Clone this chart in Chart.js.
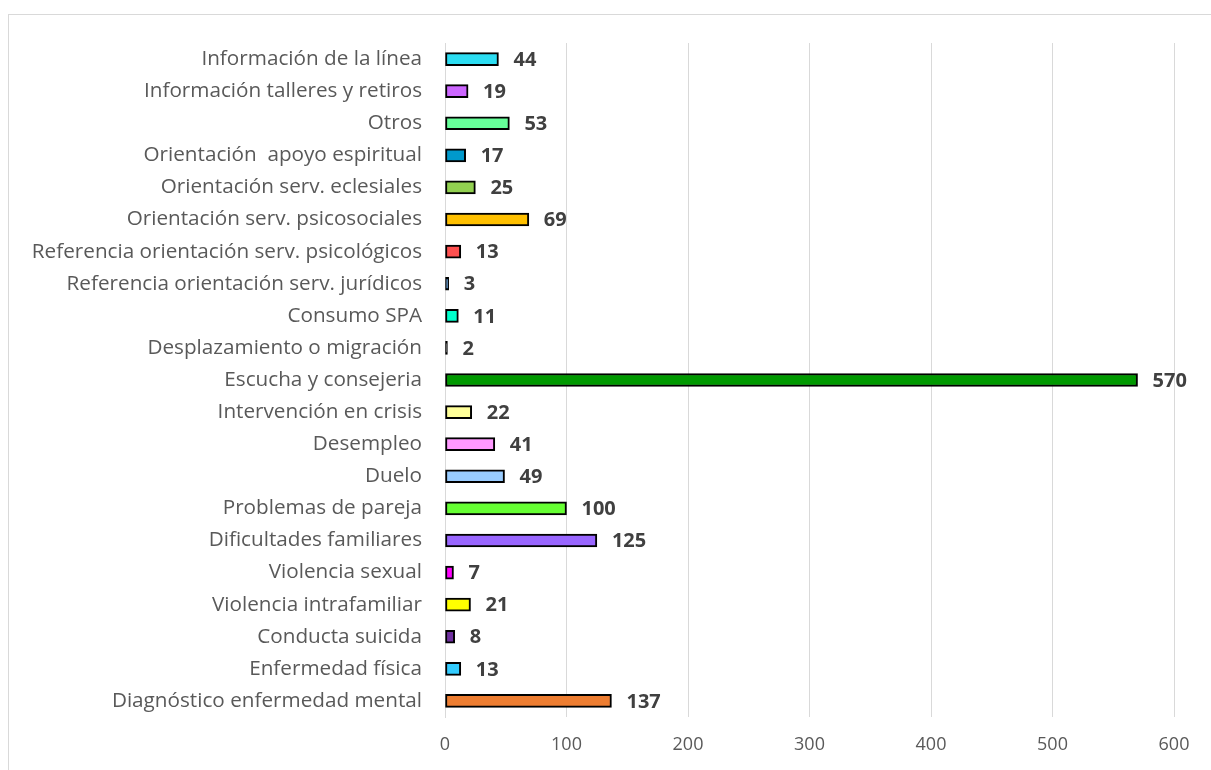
<!DOCTYPE html>
<html>
<head>
<meta charset="utf-8">
<script src="https://cdn.jsdelivr.net/npm/chart.js@4.4.1/dist/chart.umd.min.js"></script>
<style>
  body { margin: 0; background: #fff; overflow: hidden; }
  #wrap { position: relative; width: 1211px; height: 770px; }
  #frame { position: absolute; left: 8px; top: 14px; width: 1220px; height: 780px; border: 1px solid #d9d9d9; box-sizing: border-box; }
  canvas { position: absolute; left: 0; top: 0; }
</style>
</head>
<body>
<div id="wrap">
  <div id="frame"></div>
  <canvas id="chart" width="1211" height="770"></canvas>
</div>
<script>
// categorias, de arriba hacia abajo
const categories = [
    "Información de la línea",
    "Información talleres y retiros",
    "Otros",
    "Orientación  apoyo espiritual",
    "Orientación serv. eclesiales",
    "Orientación serv. psicosociales",
    "Referencia orientación serv. psicológicos",
    "Referencia orientación serv. jurídicos",
    "Consumo SPA",
    "Desplazamiento o migración",
    "Escucha y consejeria",
    "Intervención en crisis",
    "Desempleo",
    "Duelo",
    "Problemas de pareja",
    "Dificultades familiares",
    "Violencia sexual",
    "Violencia intrafamiliar",
    "Conducta suicida",
    "Enfermedad física",
    "Diagnóstico enfermedad mental"
];

const values = [44, 19, 53, 17, 25, 69, 13, 3, 11, 2, 570, 22, 41, 49, 100, 125, 7, 21, 8, 13, 137];

const barColors = [
    "#2CDDF2", "#CC66FF", "#66FF99", "#0099CC", "#92D050", "#FFC000", "#FF5050",
    "#3399FF", "#00FFCC", "#333333", "#009900", "#FFFF99", "#FF99FF", "#99CCFF",
    "#66FF33", "#9966FF", "#FF00FF", "#FFFF00", "#7030A0", "#33CCFF", "#ED7D31"
];

const xTicks = [0, 100, 200, 300, 400, 500, 600];

const FONT = "'Open Sans', sans-serif";

// etiquetas de valor al final de cada barra
const valueLabels = {
    id: 'valueLabels',
    afterDatasetsDraw(chart) {
        const ctx = chart.ctx;
        const meta = chart.getDatasetMeta(0);
        ctx.save();
        ctx.font = "bold 20px " + FONT;
        ctx.fillStyle = "#404040";
        ctx.textAlign = "left";
        ctx.textBaseline = "middle";
        meta.data.forEach((bar, i) => {
            ctx.fillText(String(values[i]), bar.x + 15, bar.y + 1);
        });
        ctx.restore();
    }
};

new Chart(document.getElementById('chart'), {
    type: 'bar',
    data: {
        labels: categories,
        datasets: [{
            data: values,
            backgroundColor: barColors,
            borderColor: "#000000",
            borderWidth: 2,
            borderSkipped: false,
            barThickness: 13
        }]
    },
    options: {
        indexAxis: 'y',
        responsive: false,
        animation: false,
        layout: { padding: { top: 43, right: 37, bottom: 0, left: 0 } },
        plugins: { legend: { display: false }, tooltip: { enabled: false } },
        scales: {
            x: {
                min: 0,
                max: 600,
                afterBuildTicks: (scale) => { scale.ticks = xTicks.map(v => ({ value: v })); },
                afterFit: (scale) => { scale.height = 53; },
                grid: { color: "#d9d9d9", lineWidth: 1, drawTicks: false },
                border: { display: false },
                ticks: { color: "#595959", font: { family: FONT, size: 18 }, padding: 17 }
            },
            y: {
                afterFit: (scale) => { scale.width = 445; },
                grid: { display: false, drawTicks: false },
                border: { display: true, color: "#d9d9d9", width: 1 },
                ticks: { color: "#595959", font: { family: FONT, size: 20.7 }, padding: 23, autoSkip: false }
            }
        }
    },
    plugins: [valueLabels]
});
</script>
</body>
</html>
